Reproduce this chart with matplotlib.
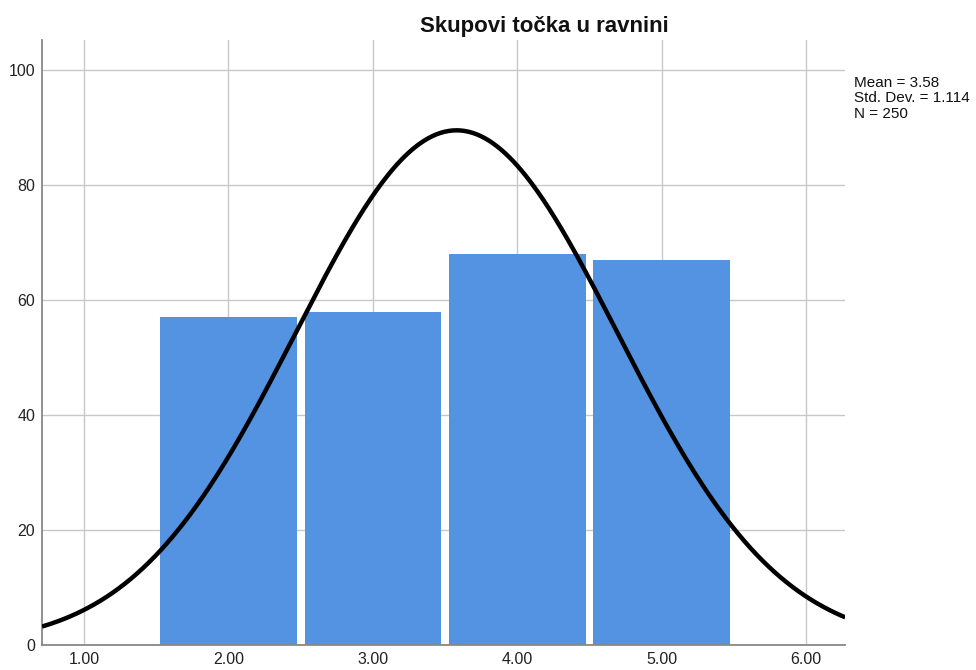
import matplotlib.pyplot as plt
import numpy as np

# podaci histograma
vrijednosti = [2, 3, 4, 5]
frekvencije = [57, 58, 68, 67]
x_oznake = ['1.00', '2.00', '3.00', '4.00', '5.00', '6.00']
y_oznake = [0, 20, 40, 60, 80, 100]

mean = 3.58
std = 1.114
N = 250

plt.rcParams['font.family'] = ['Liberation Sans', 'DejaVu Sans']

fig = plt.figure(figsize=(9.76, 6.7), dpi=100)
ax = fig.add_axes([0.043, 0.037, 0.823, 0.903])

ax.bar(vrijednosti, frekvencije, width=0.945, color='#5393e2', zorder=2)

# normalna krivulja
xs = np.linspace(0.71, 6.27, 400)
ys = N * 1.0 / (std * np.sqrt(2 * np.pi)) * np.exp(-0.5 * ((xs - mean) / std) ** 2)
ax.plot(xs, ys, color='black', linewidth=3.2, zorder=3, solid_capstyle='butt')

ax.set_xlim(0.71, 6.27)
ax.set_ylim(0, 105.2)
ax.set_xticks(range(1, 7))
ax.set_xticklabels(x_oznake)
ax.set_yticks(y_oznake)
ax.grid(True, color='#c8c8c8', linewidth=1, zorder=0)
ax.set_axisbelow(True)
ax.tick_params(length=0, labelsize=11.5, colors='#222222', pad=5)
for s in ['top', 'right']:
    ax.spines[s].set_visible(False)
for s in ['left', 'bottom']:
    ax.spines[s].set_color('#888888')
    ax.spines[s].set_linewidth(1.3)

fig.text(0.558, 0.952, 'Skupovi točka u ravnini', fontsize=16, fontweight='bold',
         ha='center', va='baseline', color='#111111')
fig.text(0.875, 0.887, 'Mean = 3.58\nStd. Dev. = 1.114\nN = 250', fontsize=11,
         ha='left', va='top', linespacing=1.15, color='#111111')

fig.savefig('out.png', dpi=100)
